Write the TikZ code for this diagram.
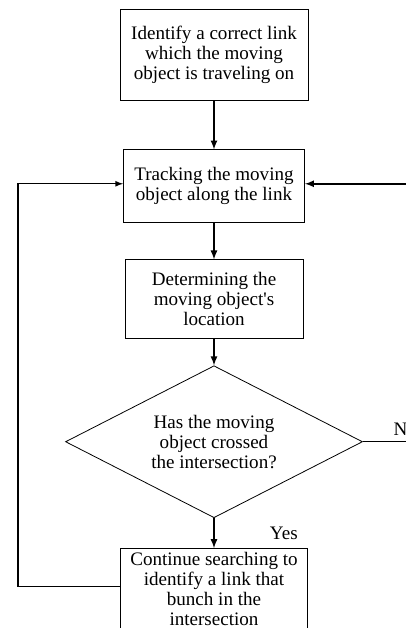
\documentclass[tikz,border=0pt]{standalone}
\usepackage{fontspec}
\setmainfont{Liberation Serif}
\usepackage{tikz}
\usetikzlibrary{shapes,arrows,positioning}

\begin{document}
\begin{tikzpicture}[
    x=0.75pt, y=-0.75pt,
    font=\fontsize{14.3}{15}\selectfont,
    stepbox/.style={draw, rectangle, line width=0.7pt, align=center, inner sep=2pt},
    decision/.style={draw, diamond, aspect=2, line width=0.6pt, align=center, inner sep=0pt,
        minimum width=222.75pt, minimum height=114pt},
    arrow/.style={-latex, line width=1.3pt},
    loop/.style={-latex, line width=1pt},
    node distance=1cm
]

\useasboundingbox (0,0) rectangle (406,628);
\clip (0,0) rectangle (406,628);

\node[stepbox, minimum width=141pt, minimum height=68.25pt] (idlink) at (214,54.5)
    {Identify a correct link\\which the moving\\object is traveling on};
\node[stepbox, minimum width=135.75pt, minimum height=54.75pt, below=36.75pt of idlink] (track)
    {Tracking the moving\\object along the link};
\node[stepbox, minimum width=133.5pt, minimum height=59.25pt, below=27pt of track] (locate)
    {Determining the\\moving object\textquotesingle s\\location};
\node[decision, below=19.5pt of locate] (crossed)
    {Has the moving\\object crossed\\the intersection?};
\node[stepbox, minimum width=140.25pt, inner ysep=3pt, below=22.5pt of crossed] (search)
    {Continue searching to\\identify a link that\\bunch in the\\intersection};

\coordinate (backL) at (18,0);
\coordinate (backR) at (440,0);

\draw[arrow] (idlink) -- (track);
\draw[arrow] (track) -- (locate);
\draw[arrow] (locate) -- (crossed);
\draw[arrow] (crossed) -- node[right=38pt] {Yes} (search);

% no: back to tracking
\draw[line width=0.8pt] (crossed.east) -- (crossed.east -| backR);
\node[anchor=south west, inner sep=1pt] (nolbl) at (392,437) {No};
\draw[arrow] ([yshift=2pt]track.east -| backR) -- ([yshift=2pt]track.east);

% yes: loop round to tracking
\draw[loop] ([yshift=2pt]search.west) -- ([yshift=2pt]search.west -| backL) |- ([yshift=2pt]track.west);

\end{tikzpicture}
\end{document}
